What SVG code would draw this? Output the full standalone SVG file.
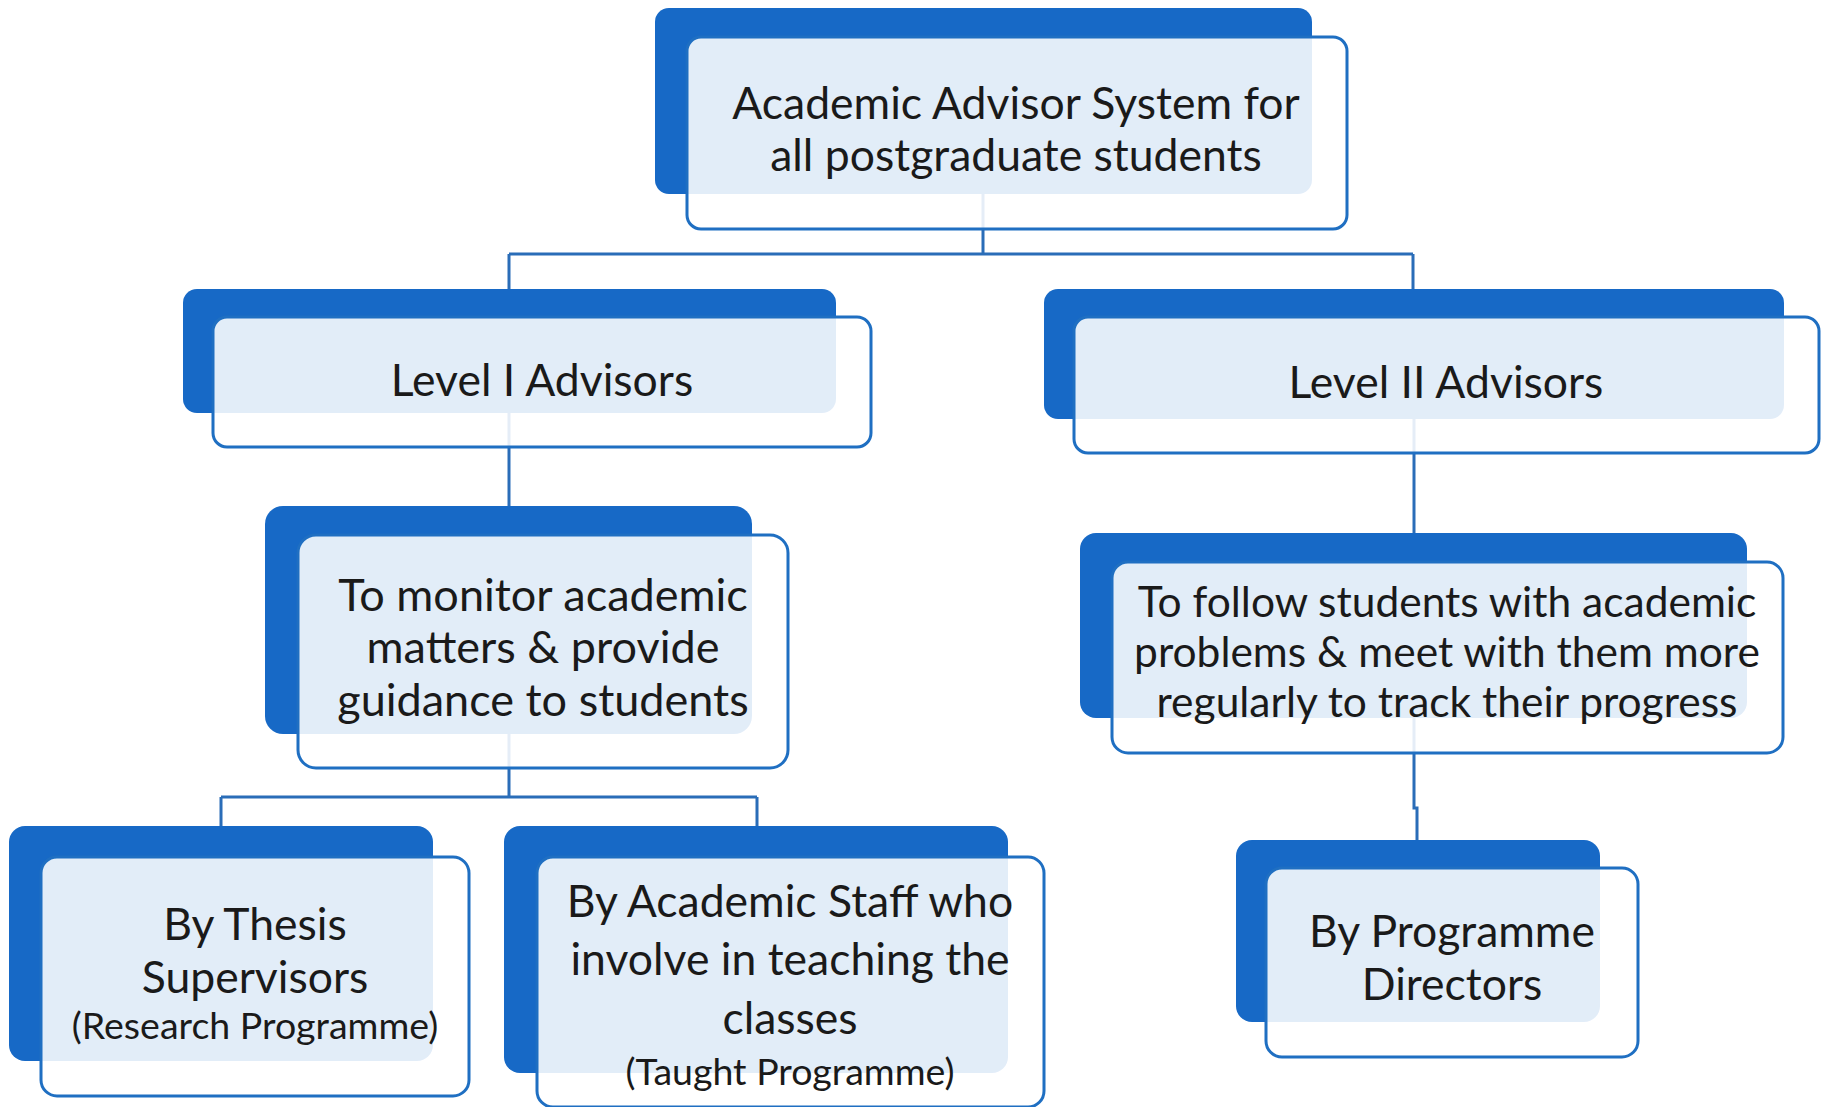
<svg xmlns="http://www.w3.org/2000/svg" width="1825" height="1107" viewBox="0 0 1825 1107">
<style>
.back{fill:#1769c6}
.front{fill:#ffffff;fill-opacity:0.88;stroke:#1f6fc2;stroke-width:3}
.conn{fill:none;stroke:#2a6db8;stroke-width:3}
.t{font-family:Lato,"Noto Sans",sans-serif;fill:#1a1a1a;text-anchor:middle}
.m{font-size:44.5px}
.s{font-size:37.5px}
</style>
<rect width="1825" height="1107" fill="#ffffff"/>
<g id="connectors">
<path class="conn" d="M983 194 V254 M509 254 H1413 M509 254 V289 M1413 254 V289"/>
<path class="conn" d="M509 413 V506"/>
<path class="conn" d="M509 734 V797 M221 797 H757 M221 797 V826 M757 797 V826"/>
<path class="conn" d="M1414 419 V533"/>
<path class="conn" d="M1414 718 V808 H1417 V840"/>
</g>
<g id="node-top">
<rect class="back" x="655" y="8" width="657" height="186" rx="14"/>
<rect class="front" x="687" y="37" width="660" height="192" rx="14"/>
<text class="t m" x="1016" y="119">Academic Advisor System for</text>
<text class="t m" x="1016" y="171">all postgraduate students</text>
</g>
<g id="node-level1">
<rect class="back" x="183" y="289" width="653" height="124" rx="14"/>
<rect class="front" x="213" y="317" width="658" height="130" rx="14"/>
<text class="t m" x="542" y="396">Level I Advisors</text>
</g>
<g id="node-level2">
<rect class="back" x="1044" y="289" width="740" height="130" rx="14"/>
<rect class="front" x="1074" y="317" width="745" height="136" rx="14"/>
<text class="t m" x="1446" y="398">Level II Advisors</text>
</g>
<g id="node-monitor">
<rect class="back" x="265" y="506" width="487" height="228" rx="18"/>
<rect class="front" x="298" y="535" width="490" height="233" rx="18"/>
<text class="t" font-size="45" x="543" y="611">To monitor academic</text>
<text class="t" font-size="45" x="543" y="663">matters &amp; provide</text>
<text class="t" font-size="45" x="543" y="716">guidance to students</text>
</g>
<g id="node-follow">
<rect class="back" x="1080" y="533" width="667" height="185" rx="16"/>
<rect class="front" x="1112" y="562" width="671" height="191" rx="16"/>
<text class="t" font-size="42.5" x="1447" y="617">To follow students with academic</text>
<text class="t" font-size="42.5" x="1447" y="667">problems &amp; meet with them more</text>
<text class="t" font-size="42.5" x="1447" y="717">regularly to track their progress</text>
</g>
<g id="node-thesis">
<rect class="back" x="9" y="826" width="424" height="235" rx="16"/>
<rect class="front" x="41" y="857" width="428" height="239" rx="16"/>
<text class="t m" x="255" y="940">By Thesis</text>
<text class="t m" x="255" y="993">Supervisors</text>
<text class="t s" x="255" y="1039">(Research Programme)</text>
</g>
<g id="node-staff">
<rect class="back" x="504" y="826" width="504" height="247" rx="16"/>
<rect class="front" x="537" y="857" width="507" height="250" rx="16"/>
<text class="t m" x="790" y="917">By Academic Staff who</text>
<text class="t m" x="790" y="975">involve in teaching the</text>
<text class="t m" x="790" y="1034">classes</text>
<text class="t s" x="790" y="1085">(Taught Programme)</text>
</g>
<g id="node-directors">
<rect class="back" x="1236" y="840" width="364" height="182" rx="16"/>
<rect class="front" x="1266" y="868" width="372" height="189" rx="16"/>
<text class="t m" x="1452" y="947">By Programme</text>
<text class="t m" x="1452" y="1000">Directors</text>
</g>
</svg>
